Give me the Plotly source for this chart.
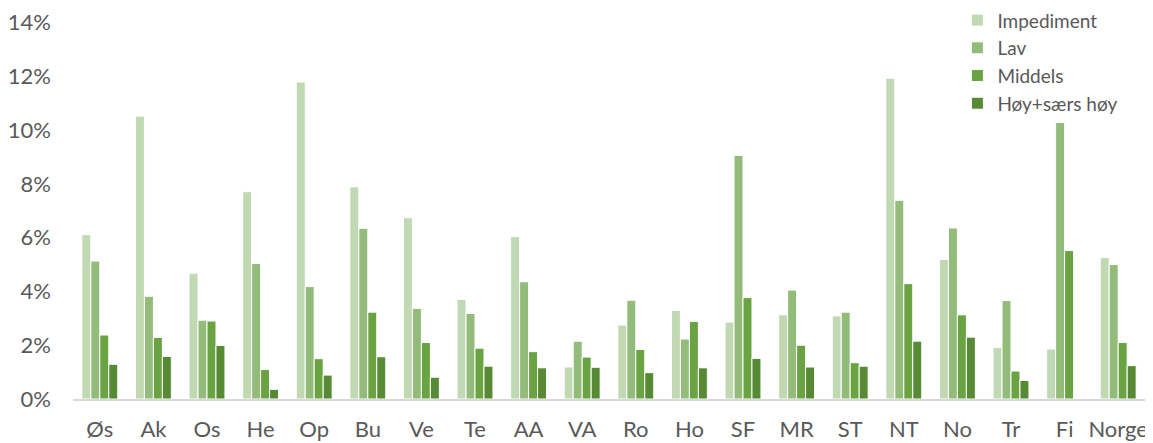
import plotly.graph_objects as go

categories = ["Øs", "Ak", "Os", "He", "Op", "Bu", "Ve", "Te", "AA", "VA",
              "Ro", "Ho", "SF", "MR", "ST", "NT", "No", "Tr", "Fi", "Norge"]

impediment = [6.11, 10.52, 4.68, 7.71, 11.79, 7.89, 6.74, 3.70, 6.04, 1.19,
              2.75, 3.29, 2.86, 3.13, 3.09, 11.93, 5.19, 1.92, 1.86, 5.26]
lav = [5.13, 3.82, 2.93, 5.04, 4.18, 6.35, 3.37, 3.18, 4.36, 2.15,
       3.67, 2.23, 9.06, 4.05, 3.23, 7.39, 6.36, 3.66, 10.28, 5.00]
middels = [2.38, 2.29, 2.90, 1.10, 1.50, 3.23, 2.10, 1.89, 1.76, 1.56,
           1.84, 2.88, 3.77, 2.00, 1.35, 4.29, 3.13, 1.04, 5.52, 2.10]
hoy = [1.29, 1.58, 1.99, 0.36, 0.89, 1.57, 0.81, 1.22, 1.16, 1.18,
       0.98, 1.16, 1.51, 1.19, 1.22, 2.15, 2.30, 0.69, 0.0, 1.24]

y_ticks = [0, 0.02, 0.04, 0.06, 0.08, 0.10, 0.12, 0.14]
y_tick_labels = ["0%", "2%", "4%", "6%", "8%", "10%", "12%", "14%"]

series = [
    ("Impediment", impediment, "#c0d9b2"),
    ("Lav", lav, "#93bb7a"),
    ("Middels", middels, "#6aa342"),
    ("Høy+særs høy", hoy, "#568a35"),
]

fig = go.Figure()
for name, vals, color in series:
    fig.add_trace(go.Bar(
        x=categories, y=[v / 100 for v in vals], name=name,
        marker=dict(color=color, line=dict(color="white", width=1)),
    ))

font_family = "Lato, 'Open Sans', sans-serif"
fig.update_layout(
    width=1153, height=443,
    margin=dict(l=65, r=16, t=14, b=52, autoexpand=False),
    paper_bgcolor="white", plot_bgcolor="white",
    barmode="group", bargap=0.33, bargroupgap=0.0,
    font=dict(family=font_family, size=22, color="#595959"),
    legend=dict(xref="paper", yref="paper", x=0.825, y=1.055,
                xanchor="left", yanchor="top",
                bgcolor="rgba(0,0,0,0)", font=dict(size=19, color="#595959"),
                itemwidth=30, tracegroupgap=0),
    xaxis=dict(showline=True, linecolor="#d9d9d9", linewidth=1.5,
               ticks="", ticklabelstandoff=10, showgrid=False, automargin=False),
    yaxis=dict(range=[0, 0.1402], tickmode="array", tickvals=y_ticks,
               ticktext=y_tick_labels,
               showgrid=False, zeroline=False, showline=False,
               ticks="", ticklabelstandoff=21, automargin=False),
)

fig.write_html("out.html")
